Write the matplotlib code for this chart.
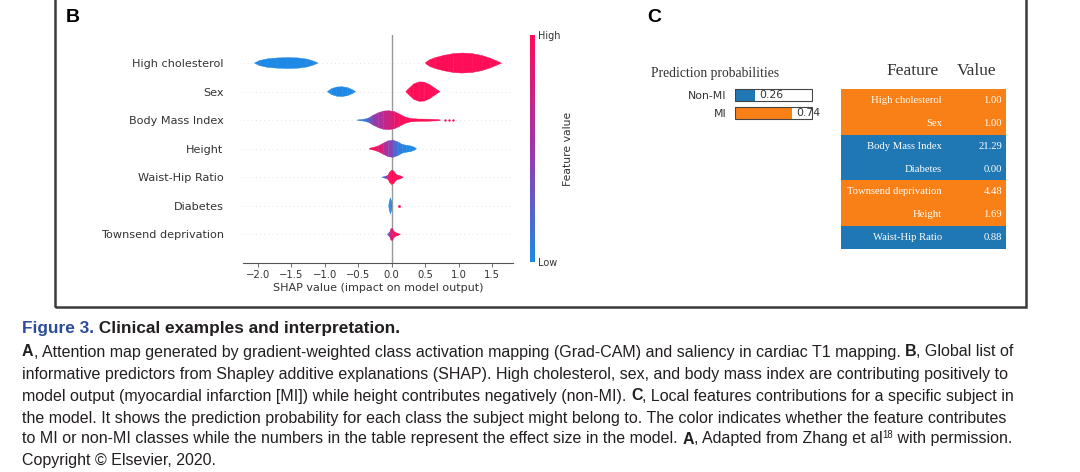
import matplotlib
matplotlib.use("Agg")
import matplotlib.pyplot as plt
from matplotlib.colors import LinearSegmentedColormap
from matplotlib.patches import Rectangle
import numpy as np

# ---- panel B : SHAP summary (violin) ----
features = ["High cholesterol", "Sex", "Body Mass Index", "Height",
            "Waist-Hip Ratio", "Diabetes", "Townsend deprivation"]
shap_ticks = [-2.0, -1.5, -1.0, -0.5, 0.0, 0.5, 1.0, 1.5]

# knots: shap value, half width (row units), feature value (0 low .. 1 high)
chol_x = [-2.05, -1.97, -1.85, -1.7, -1.55, -1.4, -1.27, -1.17, -1.10, 0.50, 0.52, 0.56, 0.65, 0.78, 0.92, 1.05, 1.2, 1.35, 1.47, 1.56, 1.64]
chol_w = [0.0, 0.09, 0.15, 0.18, 0.19, 0.18, 0.14, 0.07, 0.0, 0.0, 0.04, 0.11, 0.19, 0.27, 0.33, 0.35, 0.33, 0.26, 0.17, 0.08, 0.0]
chol_c = [0, 0, 0, 0, 0, 0, 0, 0, 0, 1, 1, 1, 1, 1, 1, 1, 1, 1, 1, 1, 1]

sex_x = [-0.96, -0.9, -0.82, -0.74, -0.66, -0.59, -0.54, 0.21, 0.26, 0.33, 0.41, 0.49, 0.57, 0.65, 0.72]
sex_w = [0.0, 0.1, 0.16, 0.17, 0.14, 0.07, 0.0, 0.0, 0.12, 0.27, 0.34, 0.33, 0.24, 0.11, 0.0]
sex_c = [0, 0, 0, 0, 0, 0, 0, 1, 1, 1, 1, 1, 1, 1, 1]

bmi_x = [-0.51, -0.42, -0.34, -0.28, -0.2, -0.12, -0.04, 0.04, 0.12, 0.2, 0.28, 0.4, 0.55, 0.7, 0.73]
bmi_w = [0.01, 0.03, 0.08, 0.17, 0.26, 0.32, 0.33, 0.3, 0.21, 0.11, 0.06, 0.04, 0.035, 0.02, 0.0]
bmi_c = [0.0, 0.05, 0.25, 0.4, 0.55, 0.65, 0.75, 0.85, 0.95, 1, 1, 1, 1, 1, 1]
bmi_dots = [0.79, 0.85, 0.91]

height_x = [-0.33, -0.28, -0.2, -0.12, -0.05, 0.02, 0.09, 0.16, 0.22, 0.28, 0.34, 0.37]
height_w = [0.02, 0.04, 0.1, 0.2, 0.28, 0.3, 0.24, 0.15, 0.12, 0.1, 0.05, 0.0]
height_c = [1, 1, 0.9, 0.7, 0.5, 0.3, 0.1, 0.05, 0, 0, 0, 0]

whr_x = [-0.14, -0.1, -0.06, -0.03, 0.0, 0.03, 0.06, 0.09, 0.12, 0.15, 0.17]
whr_w = [0.01, 0.03, 0.06, 0.18, 0.25, 0.22, 0.12, 0.07, 0.06, 0.03, 0.0]
whr_c = [0.0, 0.2, 0.8, 1, 1, 1, 1, 1, 1, 1, 1]

diab_x = [-0.045, -0.035, -0.02, -0.008, 0.0]
diab_w = [0.0, 0.15, 0.28, 0.2, 0.0]
diab_c = [0, 0, 0, 0, 0]
diab_dots = [0.105]

town_x = [-0.06, -0.03, -0.01, 0.01, 0.03, 0.06, 0.09, 0.13]
town_w = [0.02, 0.08, 0.2, 0.21, 0.12, 0.06, 0.04, 0.0]
town_c = [0.2, 0.5, 0.8, 0.9, 0.9, 1, 1, 1]

# ---- panel C ----
classes = ["Non-MI", "MI"]
probs = [0.26, 0.74]
tbl_features = ["High cholesterol", "Sex", "Body Mass Index", "Diabetes",
                "Townsend deprivation", "Height", "Waist-Hip Ratio"]
tbl_values = ["1.00", "1.00", "21.29", "0.00", "4.48", "1.69", "0.88"]
tbl_is_mi = [True, True, False, False, True, True, False]

BLUE = "#1f77b4"
ORANGE = "#f98016"
shap_cmap = LinearSegmentedColormap.from_list("red_blue", ["#1e88e5", "#9c36a8", "#ff0d57"])

fig = plt.figure(figsize=(10.8, 4.72), dpi=100)
W, H = 1080, 472


def fx(px):
    return px / W


def fy(py):
    return 1 - py / H


# frame around the panels (top runs off the image)
fig.add_artist(Rectangle((fx(55), fy(307)), fx(1026 - 55), fy(-10) - fy(307),
                         transform=fig.transFigure, fill=False, ec="#3a3a3a", lw=1.8))

fig.text(fx(66), fy(18), "B", fontsize=14, fontweight="bold", family="Liberation Sans", va="center")
fig.text(fx(647), fy(18), "C", fontsize=14, fontweight="bold", family="Liberation Sans", va="center")

# SHAP axes
ax = fig.add_axes([fx(243), fy(263), fx(513 - 243), fy(34.5) - fy(263)])
n = len(features)
rows = list(range(n - 1, -1, -1))
violins = [(chol_x, chol_w, chol_c), (sex_x, sex_w, sex_c), (bmi_x, bmi_w, bmi_c),
           (height_x, height_w, height_c), (whr_x, whr_w, whr_c),
           (diab_x, diab_w, diab_c), (town_x, town_w, town_c)]

for r in rows:
    ax.axhline(r, color="#cccccc", lw=0.5, dashes=(1, 5), zorder=-1)
ax.axvline(0, color="#999999", lw=1, zorder=-1)

for r, (xs, ws, cs) in zip(rows, violins):
    for i in range(len(xs) - 1):
        if ws[i] == 0 and ws[i + 1] == 0:
            continue
        col = shap_cmap((cs[i] + cs[i + 1]) / 2)
        ax.fill([xs[i], xs[i + 1], xs[i + 1], xs[i]],
                [r - ws[i], r - ws[i + 1], r + ws[i + 1], r + ws[i]],
                color=col, ec=col, lw=0.3)

ax.scatter(bmi_dots, [rows[2]] * len(bmi_dots), s=3, color=shap_cmap(1.0), lw=0)
ax.scatter(diab_dots, [rows[5]] * len(diab_dots), s=4, color=shap_cmap(1.0), lw=0)

ax.set_xlim(-2.22, 1.81)
ax.set_ylim(-1, n)
ax.set_yticks(rows)
ax.set_yticklabels(features, fontsize=8.1, color="#333333")
ax.tick_params(axis="y", length=0, pad=14)
ax.set_xticks(shap_ticks)
ax.set_xticklabels([f"{t:.1f}".replace("-", "\u2212") for t in shap_ticks], fontsize=7.2, color="#333333")
ax.tick_params(axis="x", length=3, width=0.6, color="#555555", pad=2)
for s in ["top", "right", "left"]:
    ax.spines[s].set_visible(False)
ax.spines["bottom"].set_color("#555555")
ax.set_xlabel("SHAP value (impact on model output)", fontsize=8, color="#333333", labelpad=2)

# colour bar
cax = fig.add_axes([fx(530), fy(262), fx(5), fy(35) - fy(262)])
sm = plt.cm.ScalarMappable(cmap=shap_cmap)
sm.set_array([0, 1])
cb = fig.colorbar(sm, cax=cax, ticks=[0, 1])
cb.outline.set_visible(False)
cb.set_ticklabels(["Low", "High"])
cax.tick_params(length=0, labelsize=7, pad=2, labelcolor="#333333")
cb.set_label("Feature value", fontsize=7.8, color="#333333", labelpad=2)

# prediction probabilities
fig.text(fx(651), fy(73), "Prediction probabilities", fontsize=9.8, family="Liberation Serif",
         color="#333333", va="center")
pax = fig.add_axes([fx(735), fy(122), fx(813 - 735), fy(86) - fy(122)])
ypos = [0, 1]
pax.barh(ypos, probs, height=0.68, color=[BLUE, ORANGE])
pax.barh(ypos, [1, 1], height=0.68, fill=False, ec="#444444", lw=0.8)
for yv, p in zip(ypos, probs):
    pax.text(p + 0.05, yv, f"{p:.2f}", fontsize=7.8, color="#333333", va="center")
pax.set_xlim(0, 1.01)
pax.set_ylim(1.5, -0.5)
pax.set_yticks(ypos)
pax.set_yticklabels(classes, fontsize=7.8, color="#333333")
pax.tick_params(axis="y", length=0, pad=6)
pax.set_xticks([])
for s in pax.spines.values():
    s.set_visible(False)
pax.patch.set_alpha(0)

# feature/value table
fig.text(fx(913), fy(71), "Feature", fontsize=12.5, family="Liberation Serif", color="#333333",
         ha="center", va="center")
fig.text(fx(977), fy(71), "Value", fontsize=12.5, family="Liberation Serif", color="#333333",
         ha="center", va="center")
tax = fig.add_axes([fx(841), fy(249), fx(1006 - 841), fy(89) - fy(249)])
trow = list(range(len(tbl_features)))
tax.barh(trow, [1] * len(trow), height=1.0,
         color=[ORANGE if m else BLUE for m in tbl_is_mi], lw=0)
for r, name, val in zip(trow, tbl_features, tbl_values):
    tax.text(0.612, r, name, fontsize=7.7, family="Liberation Serif", color="white",
             ha="right", va="center")
    tax.text(0.976, r, val, fontsize=7.7, family="Liberation Serif", color="white",
             ha="right", va="center")
tax.set_xlim(0, 1)
tax.set_ylim(len(trow) - 0.5, -0.5)
tax.axis("off")

# ---- caption ----
cap_lines = [
    [("Figure 3.", "bold", "#2b4c9b"), (" Clinical examples and interpretation.", "bold", "#231f20")],
    [("A", "bold", None), (", Attention map generated by gradient-weighted class activation mapping (Grad-CAM) and saliency in cardiac T1 mapping. ", "normal", None),
     ("B", "bold", None), (", Global list of", "normal", None)],
    [("informative predictors from Shapley additive explanations (SHAP). High cholesterol, sex, and body mass index are contributing positively to", "normal", None)],
    [("model output (myocardial infarction [MI]) while height contributes negatively (non-MI). ", "normal", None),
     ("C", "bold", None), (", Local features contributions for a specific subject in", "normal", None)],
    [("the model. It shows the prediction probability for each class the subject might belong to. The color indicates whether the feature contributes", "normal", None)],
    [("to MI or non-MI classes while the numbers in the table represent the effect size in the model. ", "normal", None),
     ("A", "bold", None), (", Adapted from Zhang et al", "normal", None), ("18", "sup", None),
     (" with permission.", "normal", None)],
    [("Copyright \u00a9 Elsevier, 2020.", "normal", None)],
]
cap_y = [328, 351, 373, 395, 417, 438, 459]   # text centre lines
CAP_FS = 11.5
renderer = fig.canvas.get_renderer()
for k, (line, yy) in enumerate(zip(cap_lines, cap_y)):
    x = fx(22)
    base = yy + 5.5
    for txt, style, col in line:
        col = col or "#231f20"
        if style == "sup":
            t = fig.text(x, fy(base - 6), txt, fontsize=CAP_FS * 0.6, family="Liberation Sans",
                         color=col, va="baseline")
        else:
            fs = CAP_FS * 1.08 if k == 0 else CAP_FS
            t = fig.text(x, fy(base), txt, fontsize=fs, family="Liberation Sans",
                         fontweight=style, color=col, va="baseline")
        bb = t.get_window_extent(renderer)
        x = bb.x1 / fig.bbox.width

fig.savefig("out.png", dpi=100)
